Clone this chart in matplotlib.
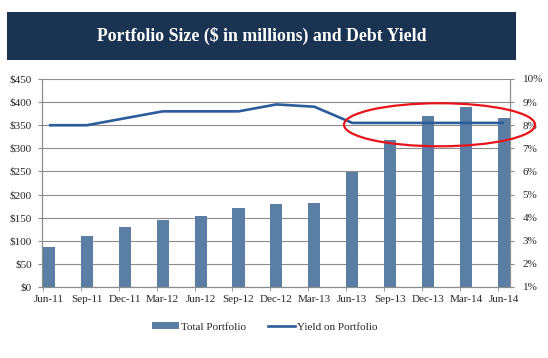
import matplotlib
matplotlib.use("Agg")
import matplotlib.pyplot as plt
from matplotlib.patches import Rectangle, Ellipse, Patch
from matplotlib.lines import Line2D
import numpy as np

categories = ["Jun-11", "Sep-11", "Dec-11", "Mar-12", "Jun-12", "Sep-12", "Dec-12",
              "Mar-13", "Jun-13", "Sep-13", "Dec-13", "Mar-14", "Jun-14"]
portfolio = [86, 110, 129, 145, 154, 171, 180, 182, 249, 317, 370, 389, 365]
yield_pct = [8.0, 8.0, 8.3, 8.6, 8.6, 8.6, 8.9, 8.8, 8.1, 8.1, 8.1, 8.1, 8.1]
left_ticks = [0, 50, 100, 150, 200, 250, 300, 350, 400, 450]
right_ticks = [1, 2, 3, 4, 5, 6, 7, 8, 9, 10]
title = "Portfolio Size ($ in millions) and Debt Yield"

FONT = "Liberation Serif"
BAR_C = "#5B7FA4"
LINE_C = "#2B5C9B"
GRID_C = "#8C8C8C"
TXT_C = "#262626"

fig = plt.figure(figsize=(5.48, 3.58), dpi=100)
W, H = 548, 358

# title band
fig.patches.append(Rectangle((7 / W, 1 - 60 / H), (516 - 7) / W, (60 - 12) / H,
                             transform=fig.transFigure, facecolor="#1B3352",
                             edgecolor="none", zorder=0))
fig.text((7 + 516) / 2 / W, 1 - 36 / H, title, color="white", fontsize=12.8,
         fontweight="bold", family=FONT, ha="center", va="center")

ax = fig.add_axes([41.7 / W, 1 - 287 / H, (510 - 41.7) / W, (287 - 79) / H])
x = np.arange(len(categories))
ax.bar(x, portfolio, width=0.32, color=BAR_C, zorder=2)
ax.set_xlim(-0.19, len(categories) - 1 + 0.16)
ax.set_ylim(0, 450)
ax.set_yticks(left_ticks)
ax.set_yticklabels([f"${v}" for v in left_ticks])
ax.yaxis.grid(True, color=GRID_C, lw=0.8, zorder=0)
ax.set_axisbelow(True)
ax.set_xticks(x)
ax.set_xticklabels(categories)
ax.set_xticks(x - 0.16, minor=True)
ax.tick_params(axis="x", which="major", length=0, pad=6)
ax.tick_params(axis="x", which="minor", length=3, color=GRID_C)
ax.tick_params(axis="y", length=3, color=GRID_C, pad=4)
ax.spines["top"].set_visible(False)
for s in ["left", "right", "bottom"]:
    ax.spines[s].set_color(GRID_C)
    ax.spines[s].set_linewidth(0.8)

ax2 = ax.twinx()
ax2.plot(x, yield_pct, color=LINE_C, lw=1.9, zorder=3, solid_capstyle="butt")
ax2.set_ylim(1, 10)
ax2.set_yticks(right_ticks)
ax2.set_yticklabels([f"{v}%" for v in right_ticks])
ax2.tick_params(axis="y", length=3, color=GRID_C, pad=6)
ax2.spines["top"].set_visible(False)
for s in ["left", "right", "bottom"]:
    ax2.spines[s].set_color(GRID_C)
    ax2.spines[s].set_linewidth(0.8)

for a in (ax, ax2):
    for lab in a.get_xticklabels() + a.get_yticklabels():
        lab.set_family(FONT)
        lab.set_fontsize(8)
        lab.set_color(TXT_C)

# highlight ellipse
ell = Ellipse((0.8495, 0.780), 0.408, 0.207, transform=ax2.transAxes,
              fill=False, edgecolor="#E8141B", lw=1.6, clip_on=False, zorder=5)
ax2.add_patch(ell)

handles = [Patch(facecolor=BAR_C, edgecolor="none"),
           Line2D([0], [0], color=LINE_C, lw=1.9)]
leg = fig.legend(handles, ["Total Portfolio", "Yield on Portfolio"],
                 loc="center", bbox_to_anchor=(265 / W, 1 - 327 / H), ncol=2,
                 frameon=False, prop={"family": FONT, "size": 8},
                 handlelength=2.4, handleheight=0.6, handletextpad=0.2,
                 columnspacing=2.0)
for t in leg.get_texts():
    t.set_color(TXT_C)

fig.savefig("out.png", dpi=100)
